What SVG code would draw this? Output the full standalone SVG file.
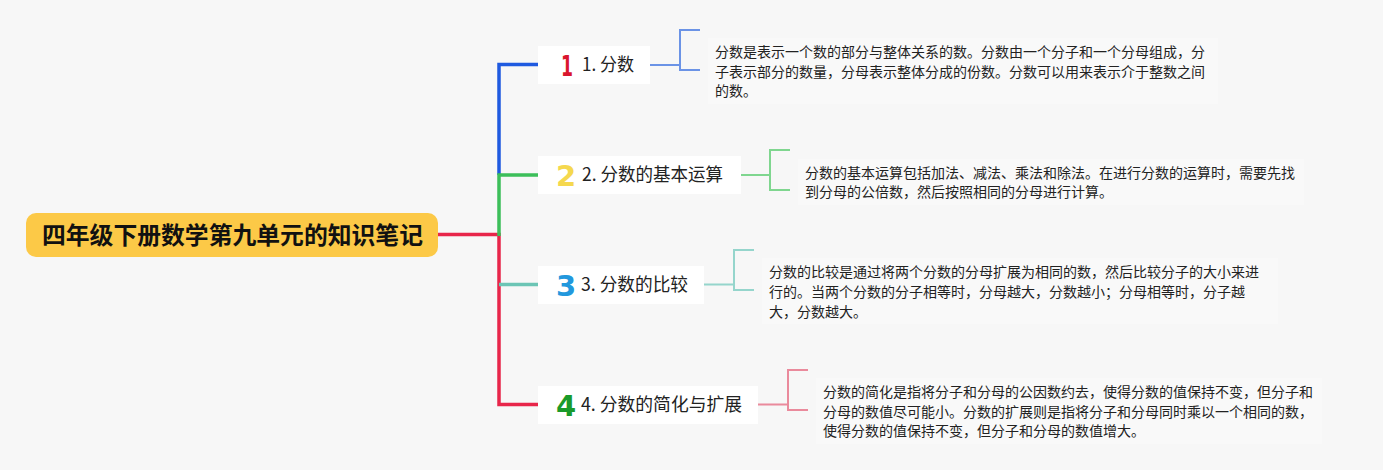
<svg xmlns="http://www.w3.org/2000/svg" width="1383" height="470" viewBox="0 0 1383 470">
<style>
.bg{fill:#f7f7f7}
.root{fill:#fcc947}
.roottxt{font-family:"Noto Sans CJK SC","Noto Sans",sans-serif;font-size:24px;font-weight:bold;fill:#111}
.child{fill:#ffffff}
.lbl{font-family:"Noto Sans CJK SC","Noto Sans",sans-serif;font-size:18px;fill:#222}
.ico{font-family:"DejaVu Sans","Noto Sans",sans-serif;font-size:29px;font-weight:bold;text-anchor:middle}
.desc{font-family:"Noto Sans CJK SC","Noto Sans",sans-serif;font-size:14px;fill:#222}
.dbox{fill:#f9f9f9}
.main{fill:none;stroke-width:3.5;stroke-linecap:butt;stroke-linejoin:miter}
.brk{fill:none;stroke-width:2}
</style>
<rect class="bg" x="0" y="0" width="1383" height="470"/>
<g id="connectors">
  <path class="main" stroke="#e8264a" d="M438,234.5 H499 V404.5 H538"/>
  <path class="main" stroke="#1f5ae0" d="M538,64.5 H499 V175"/>
  <path class="main" stroke="#3cbf5a" d="M538,175 H499 V236"/>
  <path class="main" stroke="#6cc5b5" d="M499,284.5 H538"/>
  <path class="brk" stroke="#6b93e6" d="M650,65 H680 M700,30 H680 V70 H700"/>
  <path class="brk" stroke="#7fd68f" d="M741,175 H770 M790,150 H770 V190 H790"/>
  <path class="brk" stroke="#95d5cc" d="M704,284.5 H734 M754,250 H734 V290 H754"/>
  <path class="brk" stroke="#ea8a9c" d="M758,404.5 H788 M808,370 H788 V410 H808"/>
</g>
<g id="root">
  <rect class="root" x="26" y="213" width="412" height="44" rx="10"/>
  <text class="roottxt" x="42" y="244" textLength="381" lengthAdjust="spacingAndGlyphs">四年级下册数学第九单元的知识笔记</text>
</g>
<g id="node1">
  <rect class="child" x="538" y="46" width="112" height="38"/>
  <text class="ico" x="567" y="76" fill="#d9162d" textLength="12" lengthAdjust="spacingAndGlyphs">1</text>
  <text class="lbl" x="582" y="71" textLength="52" lengthAdjust="spacingAndGlyphs">1. 分数</text>
</g>
<g id="node2">
  <rect class="child" x="538" y="156" width="203" height="38"/>
  <text class="ico" x="566" y="186" fill="#f5d84e">2</text>
  <text class="lbl" x="582" y="181" textLength="141" lengthAdjust="spacingAndGlyphs">2. 分数的基本运算</text>
</g>
<g id="node3">
  <rect class="child" x="538" y="266" width="166" height="38"/>
  <text class="ico" x="566" y="296" fill="#2298dd">3</text>
  <text class="lbl" x="581" y="291" textLength="107" lengthAdjust="spacingAndGlyphs">3. 分数的比较</text>
</g>
<g id="node4">
  <rect class="child" x="538" y="386" width="220" height="38"/>
  <text class="ico" x="566" y="416" fill="#1a9a2a">4</text>
  <text class="lbl" x="581" y="411" textLength="161" lengthAdjust="spacingAndGlyphs">4. 分数的简化与扩展</text>
</g>
<g id="desc1">
  <rect class="dbox" x="708" y="38" width="510" height="66"/>
  <text class="desc" x="715" y="57">分数是表示一个数的部分与整体关系的数。分数由一个分子和一个分母组成，分</text>
  <text class="desc" x="715" y="77">子表示部分的数量，分母表示整体分成的份数。分数可以用来表示介于整数之间</text>
  <text class="desc" x="715" y="96">的数。</text>
</g>
<g id="desc2">
  <rect class="dbox" x="798" y="159" width="506" height="46"/>
  <text class="desc" x="805" y="178">分数的基本运算包括加法、减法、乘法和除法。在进行分数的运算时，需要先找</text>
  <text class="desc" x="805" y="197">到分母的公倍数，然后按照相同的分母进行计算。</text>
</g>
<g id="desc3">
  <rect class="dbox" x="762" y="258" width="516" height="66"/>
  <text class="desc" x="769" y="277">分数的比较是通过将两个分数的分母扩展为相同的数，然后比较分子的大小来进</text>
  <text class="desc" x="769" y="297">行的。当两个分数的分子相等时，分母越大，分数越小；分母相等时，分子越</text>
  <text class="desc" x="769" y="317">大，分数越大。</text>
</g>
<g id="desc4">
  <rect class="dbox" x="816" y="378" width="506" height="66"/>
  <text class="desc" x="823" y="397">分数的简化是指将分子和分母的公因数约去，使得分数的值保持不变，但分子和</text>
  <text class="desc" x="823" y="417">分母的数值尽可能小。分数的扩展则是指将分子和分母同时乘以一个相同的数，</text>
  <text class="desc" x="823" y="436">使得分数的值保持不变，但分子和分母的数值增大。</text>
</g>
</svg>
